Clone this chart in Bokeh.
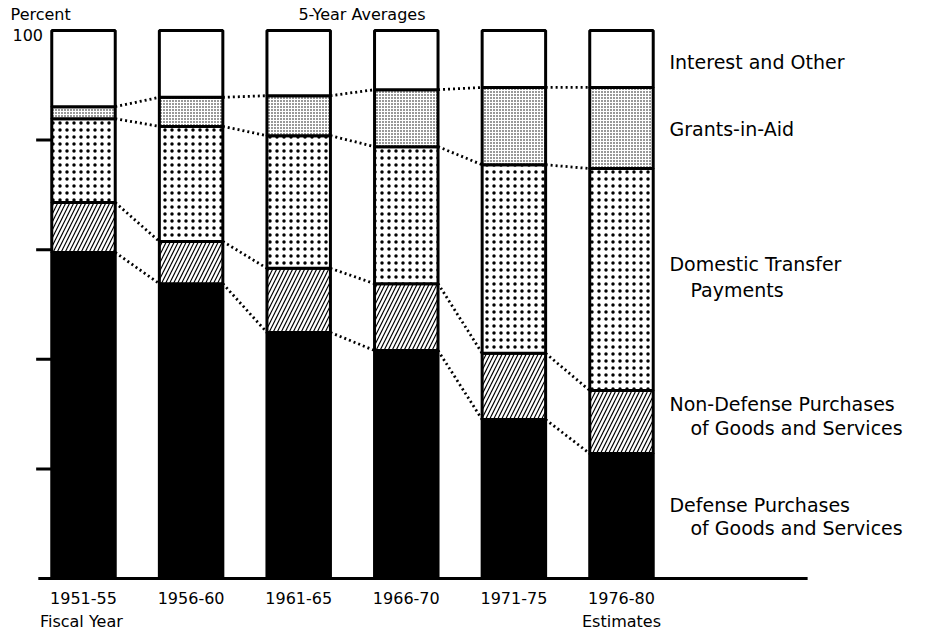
import numpy as np
from bokeh.plotting import figure
from bokeh.models import Range1d
from bokeh.core.properties import value
from bokeh.embed import file_html
from bokeh.resources import INLINE

# ---- data (percent of federal outlays, 5-year averages) ----
periods = ["1951-55", "1956-60", "1961-65", "1966-70", "1971-75", "1976-80"]
defense = [59.5, 53.8, 44.9, 41.6, 29.0, 22.8]
nondefense = [9.1, 7.7, 11.7, 12.2, 12.1, 11.5]
domestic = [15.3, 21.0, 24.2, 25.0, 34.4, 40.5]
grants = [2.2, 5.3, 7.3, 10.4, 14.1, 14.8]
interest = [13.9, 12.2, 11.9, 10.8, 10.4, 10.4]
y_ticks = [20, 40, 60, 80]
series_labels = [
    ["Interest and Other"],
    ["Grants-in-Aid"],
    ["Domestic Transfer", "Payments"],
    ["Non-Defense Purchases", "of Goods and Services"],
    ["Defense Purchases", "of Goods and Services"],
]
label_y = [[94.3], [82.1], [57.3, 52.6], [31.8, 27.5], [13.4, 9.2]]

FONT = value("DejaVu Sans")
W = 0.59

x = np.arange(len(periods), dtype=float)
layers = [defense, nondefense, domestic, grants, interest]
cum = np.cumsum(np.array(layers), axis=0)
bottoms = np.vstack([np.zeros(len(periods)), cum[:-1]])

p = figure(width=930, height=631, x_range=Range1d(-0.7714, 7.872),
           y_range=Range1d(-9.67, 105.47), output_backend="svg",
           toolbar_location=None, min_border=0)
p.min_border_left = p.min_border_right = p.min_border_top = p.min_border_bottom = 0
p.axis.visible = False
p.grid.visible = False
p.outline_line_color = None
p.background_fill_color = "white"

styles = [
    dict(fill_color="black"),
    dict(fill_color="white", hatch_pattern="/", hatch_color="black", hatch_scale=8, hatch_weight=1.2),
    dict(fill_color="white", hatch_pattern=".", hatch_color="black", hatch_scale=7, hatch_weight=4.5),
    dict(fill_color="white", hatch_pattern=".", hatch_color="black", hatch_scale=3, hatch_weight=1),
    dict(fill_color="white"),
]
for i, st in enumerate(styles):
    p.vbar(x=x, width=W, bottom=bottoms[i], top=cum[i], line_color="black",
           line_width=3, **st)

# dotted connectors between bars at each boundary
for i in range(4):
    p.segment(x0=x[:-1] + W / 2, x1=x[1:] - W / 2, y0=cum[i][:-1], y1=cum[i][1:],
              line_color="black", line_width=2.8, line_dash="2 3")

# axis baseline and ticks
p.segment(x0=[-0.42], x1=[6.73], y0=[0], y1=[0], line_color="black", line_width=3)
p.segment(x0=[-0.44] * len(y_ticks), x1=[-W / 2] * len(y_ticks), y0=y_ticks, y1=y_ticks,
          line_color="black", line_width=3)

# category labels
p.text(x=x, y=[-3.5] * len(periods), text=periods, text_font=FONT, text_font_size="16px",
       text_align="center", text_baseline="middle", text_color="black")
p.text(x=[-0.02, 5.0], y=[-7.8, -7.8], text=["Fiscal Year", "Estimates"], text_font=FONT,
       text_font_size="16px", text_align="center", text_baseline="middle", text_color="black")

# top texts
p.text(x=[-0.678], y=[102.9], text=["Percent"], text_font=FONT, text_font_size="16px",
       text_align="left", text_baseline="middle", text_color="black")
p.text(x=[-0.66], y=[99.1], text=["100"], text_font=FONT, text_font_size="16px",
       text_align="left", text_baseline="middle", text_color="black")
p.text(x=[2.588], y=[102.9], text=["5-Year Averages"], text_font=FONT, text_font_size="16px",
       text_align="center", text_baseline="middle", text_color="black")

# series labels at right
for lines, ys in zip(series_labels, label_y):
    for j, (t, yy) in enumerate(zip(lines, ys)):
        p.text(x=[5.446 if j == 0 else 5.641], y=[yy], text=[t], text_font=FONT,
               text_font_size="19px", text_align="left", text_baseline="middle",
               text_color="black")

open("out.html", "w").write(file_html(p, INLINE))
